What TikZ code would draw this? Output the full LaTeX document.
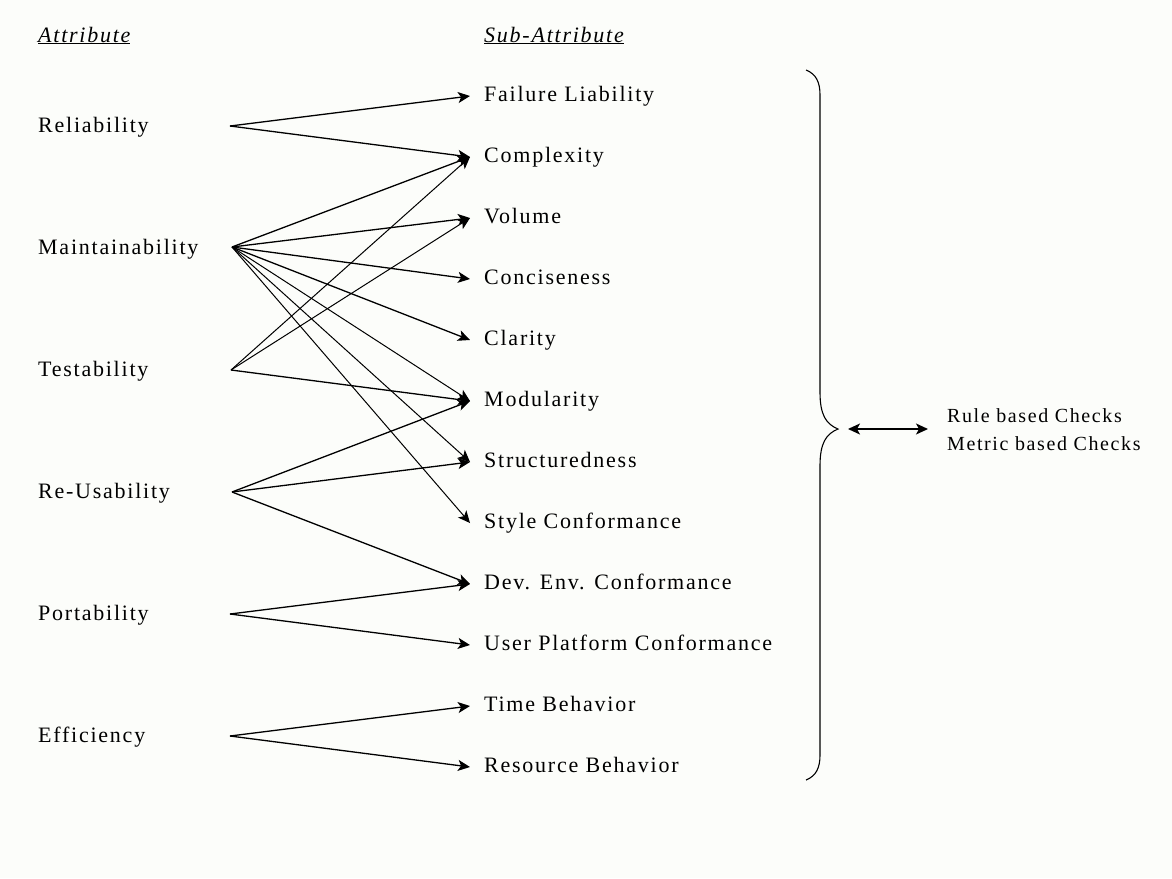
\documentclass[tikz,border=0pt]{standalone}
\usepackage{fontspec}
\setmainfont{Liberation Serif}[LetterSpace=8]
\usetikzlibrary{arrows.meta}
\definecolor{bg}{RGB}{252,253,250}
\begin{document}
\begin{tikzpicture}[x=1pt,y=-1pt,
  attr/.style={anchor=base west,inner sep=0pt,font=\fontsize{22}{26}\selectfont},
  sub/.style={anchor=base west,inner sep=0pt,font=\fontsize{22}{26}\selectfont},
  head/.style={anchor=base west,inner sep=0pt,font=\fontsize{22}{26}\selectfont\itshape},
  tip/.style={-{Stealth[length=12pt,width=11pt,inset=3pt]}},
  link/.style={line width=1.3pt,tip},
  thin/.style={line width=1pt,tip}]
\fill[bg] (0,0) rectangle (1172,878);
\useasboundingbox (0,0) rectangle (1172,878);

% headers
\node[head] (hattr) at (38,42) {\underline{Attribute}};
\node[head] (hsub) at (484,42) {\underline{Sub-Attribute}};

% attributes
\node[attr] (rel) at (38,132) {Reliability};
\node[attr] (mai) at (38,254) {Maintainability};
\node[attr] (tes) at (38,376) {Testability};
\node[attr] (reu) at (38,498) {Re-Usability};
\node[attr] (por) at (38,620) {Portability};
\node[attr] (eff) at (38,742) {Efficiency};

\coordinate (rel-o) at (230,126);
\coordinate (mai-o) at (232,247);
\coordinate (tes-o) at (231,370);
\coordinate (reu-o) at (232,492);
\coordinate (por-o) at (230,614);
\coordinate (eff-o) at (230,736);

% sub-attributes
\foreach \n/\t [count=\i from 0] in {fl/Failure Liability,cx/Complexity,vo/Volume,co/Conciseness,cl/Clarity,mo/Modularity,st/Structuredness,sc/Style Conformance,de/Dev. Env. Conformance,up/User Platform Conformance,tb/Time Behavior,rb/Resource Behavior}{
  \node[sub] (\n) at (484,{101+61*\i}) {\t};
  \coordinate (\n-i) at (470,{96+61*\i});
}

% connectors
\draw[link] (rel-o) -- (fl-i);
\draw[link] (rel-o) -- (cx-i);
\draw[link] (mai-o) -- (cx-i);
\draw[link] (mai-o) -- (vo-i);
\draw[link] (mai-o) -- (co-i);
\draw[link] (mai-o) -- (cl-i);
\draw[thin] (mai-o) -- (mo-i);
\draw[thin] (mai-o) -- (st-i);
\draw[thin] (mai-o) -- (sc-i);
\draw[thin] (tes-o) -- (cx-i);
\draw[thin] (tes-o) -- (vo-i);
\draw[link] (tes-o) -- (mo-i);
\draw[link] (reu-o) -- (mo-i);
\draw[link] (reu-o) -- (st-i);
\draw[link] (reu-o) -- (de-i);
\draw[link] (por-o) -- (de-i);
\draw[link] (por-o) -- (up-i);
\draw[link] (eff-o) -- (tb-i);
\draw[link] (eff-o) -- (rb-i);

% brace
\coordinate (btop) at (806,70);
\coordinate (bbot) at (806,780);
\coordinate (btip) at (838,429);
\draw[line width=1.1pt] (btop) .. controls (816,74) and (820,82) .. (820,95)
  -- (820,392) .. controls (820,415) and (826,424) .. (btip)
  .. controls (826,434) and (820,443) .. (820,466)
  -- (820,755) .. controls (820,768) and (816,776) .. (bbot);

% checks
\node[anchor=base west,inner sep=0pt,align=left,font=\fontsize{20}{28}\selectfont] (checks) at (947,450) {Rule based Checks\\Metric based Checks};
\coordinate (arrL) at (848,429);
\coordinate (arrR) at (928,429);
\draw[line width=1.4pt,{Stealth[length=12pt,width=11pt,inset=3pt]}-{Stealth[length=12pt,width=11pt,inset=3pt]}] (arrL) -- (arrR);
\end{tikzpicture}
\end{document}
